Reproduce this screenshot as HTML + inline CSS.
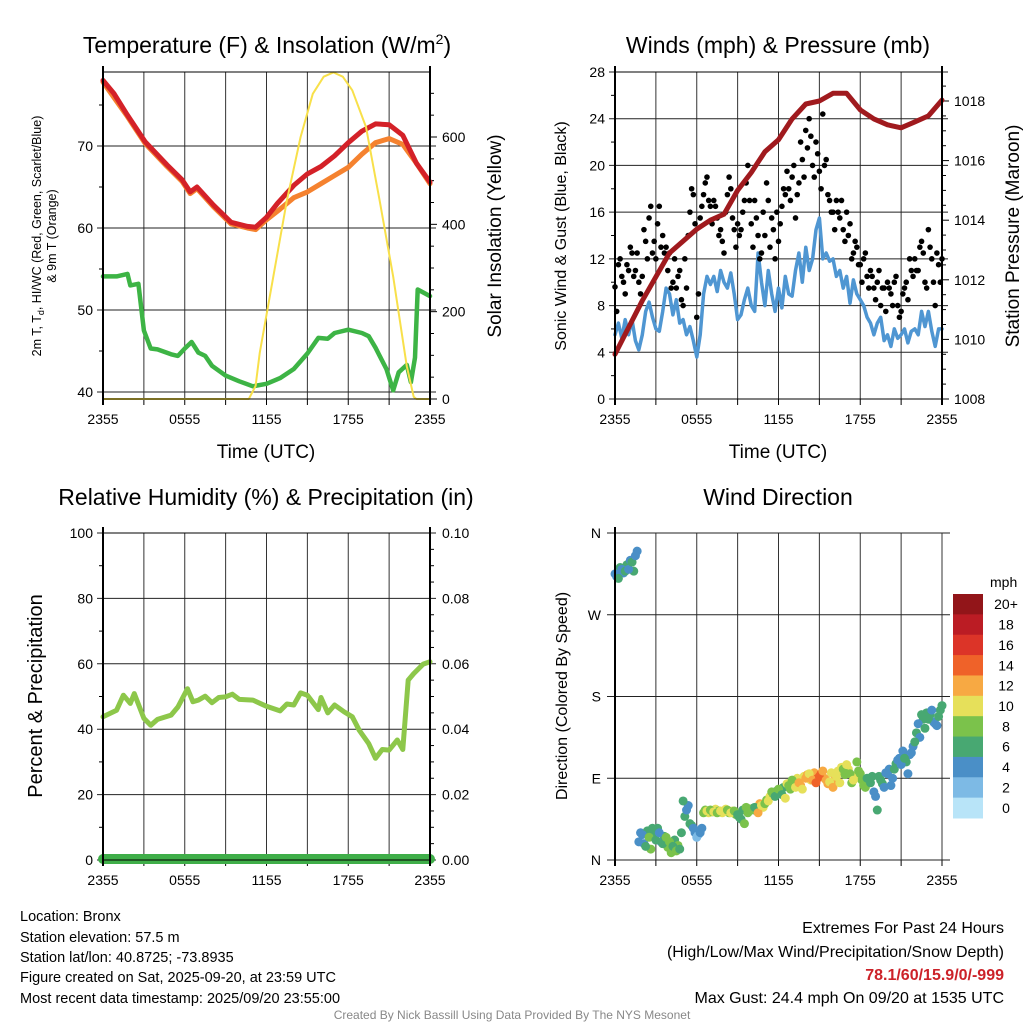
<!DOCTYPE html>
<html><head><meta charset="utf-8"><style>
html,body{margin:0;padding:0;background:#fff;}
svg{display:block;font-family:"Liberation Sans",sans-serif;}
</style></head><body>
<svg id="chart" width="1024" height="1024" viewBox="0 0 1024 1024" xmlns="http://www.w3.org/2000/svg">
<rect width="1024" height="1024" fill="#fff"/>
<g id="g1"></g>
<g id="g2"></g>
<g id="g3"></g>
<g id="g4"></g>
<g font-size="23" text-anchor="middle" fill="#000">
<text x="267" y="53">Temperature (F) &amp; Insolation (W/m<tspan font-size="14" dy="-9">2</tspan><tspan dy="9">)</tspan></text>
<text x="778" y="53">Winds (mph) &amp; Pressure (mb)</text>
<text x="266" y="505">Relative Humidity (%) &amp; Precipitation (in)</text>
<text x="778" y="505">Wind Direction</text>
</g>
<g fill="#000" text-anchor="middle">
<text x="266" y="458" font-size="19">Time (UTC)</text>
<text x="778" y="458" font-size="19">Time (UTC)</text>
<text transform="translate(41,236) rotate(-90)" font-size="12.5">2m T, T<tspan font-size="9" dy="3">d</tspan><tspan dy="-3">, HI/WC (Red, Green, Scarlet/Blue)</tspan></text>
<text transform="translate(56,236) rotate(-90)" font-size="12.5">&amp; 9m T (Orange)</text>
<text transform="translate(501,236) rotate(-90)" font-size="19">Solar Insolation (Yellow)</text>
<text transform="translate(566,236) rotate(-90)" font-size="16">Sonic Wind &amp; Gust (Blue, Black)</text>
<text transform="translate(1019,236) rotate(-90)" font-size="19">Station Pressure (Maroon)</text>
<text transform="translate(42,696) rotate(-90)" font-size="20">Percent &amp; Precipitation</text>
<text transform="translate(567,696) rotate(-90)" font-size="16">Direction (Colored By Speed)</text>
</g>
<g font-size="14.5" fill="#000">
<text x="20" y="921">Location: Bronx</text>
<text x="20" y="942">Station elevation: 57.5 m</text>
<text x="20" y="962">Station lat/lon: 40.8725; -73.8935</text>
<text x="20" y="982">Figure created on Sat, 2025-09-20, at 23:59 UTC</text>
<text x="20" y="1003">Most recent data timestamp: 2025/09/20 23:55:00</text>
</g>
<g font-size="16" text-anchor="end" fill="#000">
<text x="1004" y="933">Extremes For Past 24 Hours</text>
<text x="1004" y="957">(High/Low/Max Wind/Precipitation/Snow Depth)</text>
<text x="1004" y="980" fill="#cc2229" font-weight="bold">78.1/60/15.9/0/-999</text>
<text x="1004" y="1003">Max Gust: 24.4 mph On 09/20 at 1535 UTC</text>
</g>
<text x="512" y="1019" font-size="12" fill="#888" text-anchor="middle">Created By Nick Bassill Using Data Provided By The NYS Mesonet</text>
</svg>
<script>
// ---- Data (hours since 2355 UTC) ----
const timeTickLabels = ["2355","0555","1155","1755","2355"];
const tempHours = [0,0.8,1.7,3.1,4.7,5.8,6.4,6.9,8.1,9.4,10.6,11.2,12,12.8,14,15,16,17,18,19,20,21,22,23,24];
const tempVals  = [78.0,76.4,74.0,70.5,67.7,65.9,64.4,65.0,62.8,60.7,60.2,60.1,61.3,63.0,65.2,66.6,67.5,68.8,70.4,71.8,72.7,72.6,71.3,67.9,65.6];
const t9Hours = [0,1.7,3.1,4.7,5.8,6.4,6.9,8.1,9.4,10.6,11.2,12,13,14,15,16,17,18,19,20,21,22,23,24];
const t9Vals  = [77.8,73.8,70.3,67.5,65.7,64.2,64.8,62.6,60.5,60.0,59.8,61.0,62.3,63.7,64.4,65.4,66.4,67.4,69.0,70.4,70.9,70.2,67.9,65.4];
const dewHours = [0,1,1.8,2,2.6,3,3.5,4,5,5.5,6,6.5,7,7.5,8,9,10,11,12,13,14,15,15.8,16.5,17,18,19,19.5,20,20.8,21.3,21.7,22.3,22.6,22.9,23.1,24];
const dewVals  = [54.1,54.1,54.4,53,53.2,47.5,45.3,45.2,44.6,44.4,45.3,46.1,44.8,44.4,43.2,42,41.3,40.7,41,41.7,42.8,44.7,46.6,46.5,47.2,47.6,47.2,46.8,45.4,42.8,40.2,42.4,43.3,41.2,44.2,52.5,51.7];
const solarHours = [0,10.7,11.2,11.5,12.5,13.5,14.5,15.4,16.2,16.9,17.6,18.3,19.3,20.3,21.3,22.3,22.8,23,24];
const solarVals  = [0,0,30,105,280,455,600,699,738,748,738,707,623,455,280,75,5,0,0];
const tempTicks = [40,50,60,70];
const solarTicks = [0,200,400,600];
const windVals = [5.5,6.5,5.2,6.8, 5.5,6.8,5,4.2, 5.5,7.5,8.3,7, 6,5.8,7.5,9.5, 9,7.2,8.5,6.5, 6.8,5.5,6.2,5, 3.6,5.5,9,10.5, 9.8,10.5,9.2,11, 10,9.5,10.8,9, 6.8,7.2,8.5,9.5, 8,7.5,12.5,10, 8,11,9,7.5, 9.5,7.8,10.5,9, 8.8,11,12.5,10, 13,11,12,14.5, 15.5,12,12.5,11.8, 12,10.5,11,9.5, 10.5,8.2,10.2,9, 8.5,8,7,6.5, 5.5,6.5,7,5, 5.5,4.5,6,5.2, 5.5,6,4.8,5.8, 6,5.5,7.5,6.2, 7.5,5.8,4.5,6, 6];
const gustVals = [9.6,11.5,10.5,9, 11,12.5,11,10, 10.5,13.5,15.5,12.5, 12,16.5,14,13, 12.5,10,9.5,11, 8,9.5,16,17.5, 7,15.5,17.5,19, 16.5,17,15.5,14.5, 12.5,17.5,18,14.5, 15,14.5,17,20, 15,17,14,12.5, 14,17,15.5,12, 13.5,16.5,17.5,18, 19,15.5,18.5,20.5, 23,24,20,22, 19.5,24.4,20.5,17, 16,17,15.5,14.5, 16,15,12.5,13, 11.5,12,10.5,11, 9.5,10,8,9.5, 10,9,10,8, 7.5,9.5,8.5,11, 12,11,13.5,10, 14.5,12,8,11.5, 12];
const gustVals2 = [7.5,12,10,11.5, 13,10.5,12.5,9, 14.5,12,16.5,13.5, 15,13,12.5,11, 9.5,12,10.5,8.5, 12,14,18,15, 9,16.5,18.5,17, 15,16.5,14,13.5, 16,19,15.5,13, 14,16,18.5,17, 13,15.5,12,16, 18.5,13,14.5,16, 15,18,19.5,17, 20,17.5,22,19, 21.5,22.5,19,21, 18,20,17.5,16, 14.5,16,17,13.5, 14,12,13.5,11.5, 10,12.5,9.5,10.5, 8.5,11,9.5,7.5, 9.5,8,10.5,7, 9,10,12,10.5, 11,13,12.5,9.5, 13,10,12.5,10];
const presHours = [0,1,2,3,4,5,6,7,8,9,10,11,12,13,14,15,16,17,18,19,20,21,22,23,24];
const presVals  = [1009.5,1010.4,1011.3,1012.1,1012.9,1013.3,1013.7,1014.0,1014.2,1015.0,1015.6,1016.3,1016.7,1017.4,1017.9,1018.0,1018.26,1018.26,1017.7,1017.4,1017.2,1017.1,1017.3,1017.5,1018.03];
const windTicks = [0,4,8,12,16,20,24,28];
const presTicks = [1008,1010,1012,1014,1016,1018];
const rhHours = [0,1,1.5,2,2.3,3,3.5,4,5,5.5,6.2,6.6,7,7.5,8,8.5,9,9.5,10,11,12,13,13.5,14,14.5,15,15.8,16,16.5,17,17.7,18.3,18.8,19.5,20,20.5,21,21.6,22,22.4,22.8,23.5,24];
const rhVals  = [43.8,45.8,50.4,47.9,50.9,43.3,41.2,43,44.3,46.8,52.4,48.4,48.9,50.1,48.1,49.7,49.9,50.7,49.1,48.9,47,45.6,47.7,47.4,51.1,50.4,46,49.7,45,47.4,45.3,43.8,39.7,35.6,31.1,33.8,33.6,36.7,33.8,55,57,59.9,60.6];
const rhTicks = [0,20,40,60,80,100];
const precipTickLabels = ["0.00","0.02","0.04","0.06","0.08","0.10"];
const dirVals = [315,310,320,318, 320,328,335,20, 28,15,25,35, 22,30,18,25, 20,15,10,12, 65,55,40,35, 25,30,52,54, 55,53,52,54, 53,55,52,54, 50,45,40,52, 55,58,52,60, 62,65,75,70, 78,72,68,82, 88,80,85,78, 90,95,88,85, 92,98,88,86, 80,92,85,100, 105,95,88,108, 95,82,90,85, 75,55,88,80, 95,82,100,110, 105,112,95,118, 130,150,160,145, 155,165,150,158, 170];
const dirVals2 = [312,322,316,325, 330,318,340,30, 18,32,12,28, 35,20,26,14, 8,22,16,30, 48,60,38,30, 28,35,55,52, 53,56,54,52, 56,52,54,50, 47,55,58,56, 57,54,62,58, 66,70,72,76, 74,80,84,78, 86,90,82,92, 94,88,96,90, 95,90,84,96, 88,98,102,94, 100,85,92,98, 88,80,86,92, 70,92,84,96, 100,90,106,112, 120,108,116,125, 140,135,155,162, 160,152,148,165];
const dirTicks = [0,90,180,270,360];
const dirTickLabels = ["N","E","S","W","N"];
const speedBins = ["0","2","4","6","8","10","12","14","16","18","20+"];
const speedColors = ["#b8e4f8","#7dbae5","#4a8fc7","#48a872","#7bc24b","#e6e05a","#f7a943","#ef6229","#dc3428","#bb1c24","#921519"];

const NS="http://www.w3.org/2000/svg";
function mk(parent,tag,attrs){const e=document.createElementNS(NS,tag);for(const k in attrs)e.setAttribute(k,attrs[k]);parent.appendChild(e);return e;}
function lin(d0,d1,r0,r1){return v=>r0+(v-d0)*(r1-r0)/(d1-d0);}
function path(xs,ys,fx,fy){return xs.map((x,i)=>(i?'L':'M')+fx(x).toFixed(1)+','+fy(ys[i]).toFixed(1)).join('');}
function frame(g,L,R,T,B,xTicks){
  for(let h=0;h<=24;h+=3){const x=lin(0,24,L,R)(h);
    const gl=mk(g,'line',{x1:x,x2:x,y1:T,y2:B,stroke:'#333','stroke-width':1});
    
    const tk=mk(g,'line',{x1:x,x2:x,y1:B,y2:B+6,stroke:'#000','stroke-width':1});
    }
  if(xTicks){timeTickLabels.forEach((s,i)=>{const t=mk(g,'text',{x:lin(0,24,L,R)(i*6),y:B+25,'font-size':14,'text-anchor':'middle'});t.textContent=s;
    });}
}
function hgrid(g,L,R,y,ext){const l=mk(g,'line',{x1:L-ext,x2:R+ext,y1:y,y2:y,stroke:'#222','stroke-width':1});
  }
function label(g,x,y,s,anchor,size){const t=mk(g,'text',{x:x,y:y+5,'font-size':size||14,'text-anchor':anchor});t.textContent=s;
  return t;}
function axes(g,L,R,T,B){
  const a=mk(g,'line',{x1:L,x2:L,y1:T-6,y2:B+6,stroke:'#000','stroke-width':2});
  const b=mk(g,'line',{x1:R,x2:R,y1:T-6,y2:B+6,stroke:'#000','stroke-width':2});
  const c=mk(g,'line',{x1:L,x2:R,y1:T,y2:T,stroke:'#000','stroke-width':1});
  const d=mk(g,'line',{x1:L,x2:R,y1:B,y2:B,stroke:'#000','stroke-width':1});
}
function line(g,d,color,w,name){const p=mk(g,'path',{d:d,fill:'none',stroke:color,'stroke-width':w,'stroke-linejoin':'round','stroke-linecap':'round'});
  return p;}

// Panel 1
(function(){const g=document.getElementById('g1');const L=103,R=430,T=72,B=399;
  const fx=lin(0,24,L,R),fy=lin(40,70,392,146),fs=lin(0,600,399,137);
  frame(g,L,R,T,B,true);
  tempTicks.forEach(v=>{hgrid(g,L,R,fy(v),6);label(g,L-10,fy(v),String(v),'end');});
  [45,55,65,75].forEach(v=>{const m=mk(g,'line',{x1:L-4,x2:L,y1:fy(v),y2:fy(v),stroke:'#000'});});
  solarTicks.forEach(v=>{const t=mk(g,'line',{x1:R,x2:R+7,y1:fs(v),y2:fs(v),stroke:'#000'});label(g,R+12,fs(v),String(v),'start');});
  for(let v=50;v<=700;v+=50){if(v%200){const t=mk(g,'line',{x1:R,x2:R+4,y1:fs(v),y2:fs(v),stroke:'#000'});}}
  line(g,path(dewHours,dewVals,fx,fy),'#3db445',4.5,'dewpoint-line');
  line(g,path(t9Hours,t9Vals,fx,fy),'#f5822f',5,'temp-9m-line');
  line(g,path(tempHours,tempVals,fx,fy),'#d42128',5,'temp-2m-line');
  line(g,path(solarHours,solarVals,fx,fs),'#f8e04a',2,'solar-line');
  axes(g,L,R,T,B);
})();

// Panel 2
(function(){const g=document.getElementById('g2');const L=615,R=942,T=72,B=399;
  const fx=lin(0,24,L,R),fy=lin(0,28,B,T),fp=lin(1008,1018,B,101);
  frame(g,L,R,T,B,true);
  windTicks.forEach(v=>{hgrid(g,L,R,fy(v),6);label(g,L-10,fy(v),String(v),'end');});
  for(let v=2;v<28;v+=4){const m=mk(g,'line',{x1:L-4,x2:L,y1:fy(v),y2:fy(v),stroke:'#000'});}
  presTicks.forEach(v=>{const t=mk(g,'line',{x1:R,x2:R+7,y1:fp(v),y2:fp(v),stroke:'#000'});label(g,R+12,fp(v),String(v),'start');});
  for(let v=1008.5;v<1019;v+=0.5){if(v%2){const t=mk(g,'line',{x1:R,x2:R+4,y1:fp(v),y2:fp(v),stroke:'#000'});}}
  const hrs=windVals.map((_,i)=>i/4);
  line(g,path(hrs,windVals,fx,fy),'#4f96d2',3.5,'wind-line');
  gustVals.forEach((v,i)=>{const c=mk(g,'circle',{cx:fx(i/4),cy:fy(v),r:2.8,fill:'#000'});
    });
  gustVals2.forEach((v,i)=>{const c=mk(g,'circle',{cx:fx(i/4+0.125),cy:fy(v),r:2.8,fill:'#000'});
    });
  line(g,path(presHours,presVals,fx,fp),'#a01a1e',5,'pressure-line');
  axes(g,L,R,T,B);
})();

// Panel 3
(function(){const g=document.getElementById('g3');const L=103,R=430,T=533,B=860;
  const fx=lin(0,24,L,R),fy=lin(0,100,B,T);
  frame(g,L,R,T,B,true);
  rhTicks.forEach((v,i)=>{hgrid(g,L,R,fy(v),6);label(g,L-10,fy(v),String(v),'end');label(g,R+12,fy(v),precipTickLabels[i],'start');});
  for(let v=10;v<100;v+=20){const m=mk(g,'line',{x1:L-4,x2:L,y1:fy(v),y2:fy(v),stroke:'#000'});}
  for(let v=5;v<100;v+=5){if(v%20){const t=mk(g,'line',{x1:R,x2:R+4,y1:fy(v),y2:fy(v),stroke:'#000'});}}
  line(g,path(rhHours,rhVals,fx,fy),'#8dc74a',5,'rh-line');
  line(g,'M'+L+','+(B-1)+'L'+R+','+(B-1),'#3fae49',10,'precip-line');
  axes(g,L,R,T,B);
})();

// Panel 4
(function(){const g=document.getElementById('g4');const L=615,R=942,T=533,B=860;
  const fx=lin(0,24,L,R),fy=lin(0,360,B,T);
  frame(g,L,R,T,B,true);
  dirTicks.forEach((v,i)=>{hgrid(g,L,R,fy(v),8);label(g,L-14,fy(v),dirTickLabels[i],'end');});
  function bin(s){return Math.min(10,Math.floor(s/2));}
  dirVals2.forEach((v,i)=>{const c=mk(g,'circle',{cx:fx(i/4+0.125),cy:fy(v),r:4.5,fill:speedColors[bin(windVals[i])]});
    });
  dirVals.forEach((v,i)=>{const c=mk(g,'circle',{cx:fx(i/4),cy:fy(v),r:4.5,fill:speedColors[bin(windVals[i])]});
    });
  const lw=mk(g,'line',{x1:L,x2:L,y1:T-6,y2:B+6,stroke:'#000','stroke-width':2});
  const cb=mk(g,'g',{});
  const t=mk(cb,'text',{x:990,y:587,'font-size':14});t.textContent='mph';
  const h=224/11;
  speedBins.slice().reverse().forEach((s,k)=>{const y=594+k*h;
    const r=mk(cb,'rect',{x:953,y:y,width:30,height:h+0.5,fill:speedColors[10-k]});
    
    const lt=mk(cb,'text',{x:1006,y:y+h/2+5,'font-size':14,'text-anchor':'middle'});lt.textContent=s;
    });
})();
</script>
</body></html>
